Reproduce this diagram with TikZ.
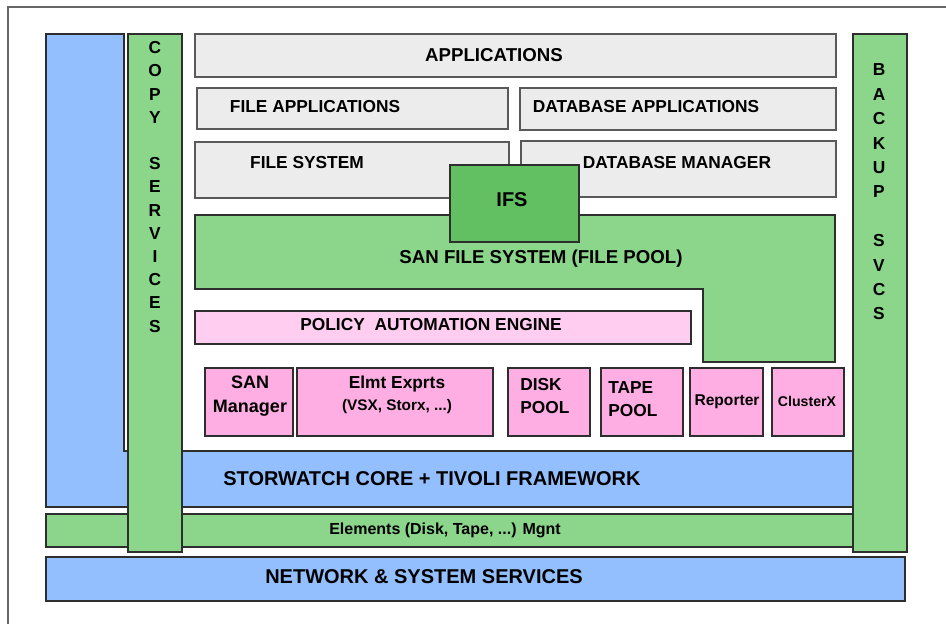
\documentclass[tikz,border=0pt]{standalone}
\usepackage{fontspec}
\setmainfont{Liberation Sans}
\usetikzlibrary{fit}
\definecolor{cblue}{HTML}{93BFFF}
\definecolor{cgreen}{HTML}{8CD68C}
\definecolor{cgreendk}{HTML}{62C062}
\definecolor{cpink}{HTML}{FFAEE4}
\definecolor{cpinklt}{HTML}{FFCDF0}
\definecolor{cgrey}{HTML}{ECECEC}
\definecolor{cline}{HTML}{2E2E2E}
\tikzset{
  every node/.style={font=\bfseries},
  box/.style={draw=cline, line width=0.8pt, inner sep=0pt},
  greybox/.style={box, fill=cgrey, draw=black!65},
  greenbox/.style={box, fill=cgreen},
  bluebox/.style={box, fill=cblue},
  pinkbox/.style={box, fill=cpink},
  lbl/.style={inner sep=0pt, font=\bfseries\fontsize{13}{15}\selectfont},
  biglbl/.style={inner sep=0pt, font=\bfseries\fontsize{15}{17}\selectfont},
  smalllbl/.style={inner sep=0pt, font=\bfseries\fontsize{11.5}{13}\selectfont},
}
\begin{document}
\begin{tikzpicture}[x=0.75pt,y=-0.75pt]
\useasboundingbox (0,0) rectangle (946,624);
\fill[white] (0,0) rectangle (946,624);
% frame
\draw[black!60, line width=0.9pt] (8,624) -- (8,7) -- (946,7);

% STORWATCH L-shape
\draw[bluebox] (46,34) -- (124,34) -- (124,451) -- (853,451) -- (853,507) -- (46,507) -- cycle;
\node[biglbl] (storwatch) at (432,479) {STORWATCH CORE + TIVOLI FRAMEWORK};

% Elements Mgnt
\node[greenbox, fit={(46,514) (853,547)}] (elem) {};
\node[smalllbl, font=\bfseries\fontsize{12}{14}\selectfont] (elemT) at (445,530) {Elements (Disk, Tape, ...) Mgnt};

% Network
\node[bluebox, fit={(46,557) (905,601)}] (net) {};
\node[biglbl] (netT) at (424,577) {NETWORK \& SYSTEM SERVICES};

% Copy services column
\node[greenbox, fit={(128,34) (182,552)}] (copy) {};
\node[lbl, align=center, font=\bfseries\fontsize{13}{17.4}\selectfont] (copyT) at (155,187)
  {C\\O\\P\\Y\\\mbox{}\\S\\E\\R\\V\\I\\C\\E\\S};

% Backup column
\node[greenbox, fit={(853,34) (907,552)}] (backup) {};
\node[lbl, align=center, font=\bfseries\fontsize{13}{18.3}\selectfont] (backupT) at (879,192)
  {B\\A\\C\\K\\U\\P\\\mbox{}\\S\\V\\C\\S};

% Grey boxes
\node[greybox, fit={(195,34) (836,77)}] (apps) {};
\node[lbl, font=\bfseries\fontsize{14}{16}\selectfont] (appsT) at (494,55) {APPLICATIONS};
\node[greybox, fit={(197,88) (508,129)}] (fapps) {};
\node[lbl] (fappsT) at (315,107) {FILE APPLICATIONS};
\node[greybox, fit={(520,88) (836,130)}] (dbapps) {};
\node[lbl] (dbappsT) at (646,107) {DATABASE APPLICATIONS};
\node[greybox, fit={(195,142) (509,198)}] (fsys) {};
\node[lbl] (fsysT) at (307,163) {FILE SYSTEM};
\node[greybox, fit={(521,141) (836,197)}] (dbm) {};
\node[lbl] (dbmT) at (677,163) {DATABASE MANAGER};

% SAN file system L-shape
\draw[box, fill=cgreen] (195,215) -- (835,215) -- (835,362) -- (703,362) -- (703,289) -- (195,289) -- cycle;
\node[lbl, font=\bfseries\fontsize{14}{16}\selectfont] (sanfsT) at (541,259) {SAN FILE SYSTEM (FILE POOL)};

% IFS
\node[box, fill=cgreendk, fit={(450,165) (579,242)}] (ifs) {};
\node[biglbl] (ifsT) at (512,200) {IFS};

% Policy
\node[box, fill=cpinklt, fit={(195,311) (691,344)}] (policy) {};
\node[lbl] (policyT) at (431,325) {POLICY\ \ AUTOMATION ENGINE};

% Bottom pink boxes
\node[pinkbox, fit={(205,368) (293,436)}] (sanm) {};
\node[lbl, align=center, font=\bfseries\fontsize{13.5}{17.5}\selectfont] (sanmT) at (250,396) {SAN\\Manager};
\node[pinkbox, fit={(297,368) (493,436)}] (elmt) {};
\node[lbl] (elmtT1) at (397,384) {Elmt Exprts};
\node[smalllbl] (elmtT2) at (397,407) {(VSX, Storx, ...)};
\node[pinkbox, fit={(508,368) (590,436)}] (disk) {};
\node[lbl, align=left, font=\bfseries\fontsize{13}{17.5}\selectfont, anchor=west] (diskT) at (520,396) {DISK\\POOL};
\node[pinkbox, fit={(601,368) (683,436)}] (tape) {};
\node[lbl, align=left, font=\bfseries\fontsize{13}{17.5}\selectfont, anchor=west] (tapeT) at (608,399) {TAPE\\POOL};
\node[pinkbox, fit={(690,368) (763,436)}] (rep) {};
\node[smalllbl, font=\bfseries\fontsize{11.7}{14}\selectfont] (repT) at (727,402) {Reporter};
\node[pinkbox, fit={(772,368) (844,436)}] (clus) {};
\node[smalllbl, font=\bfseries\fontsize{10.6}{13}\selectfont] (clusT) at (807,401) {ClusterX};
\end{tikzpicture}
\end{document}
